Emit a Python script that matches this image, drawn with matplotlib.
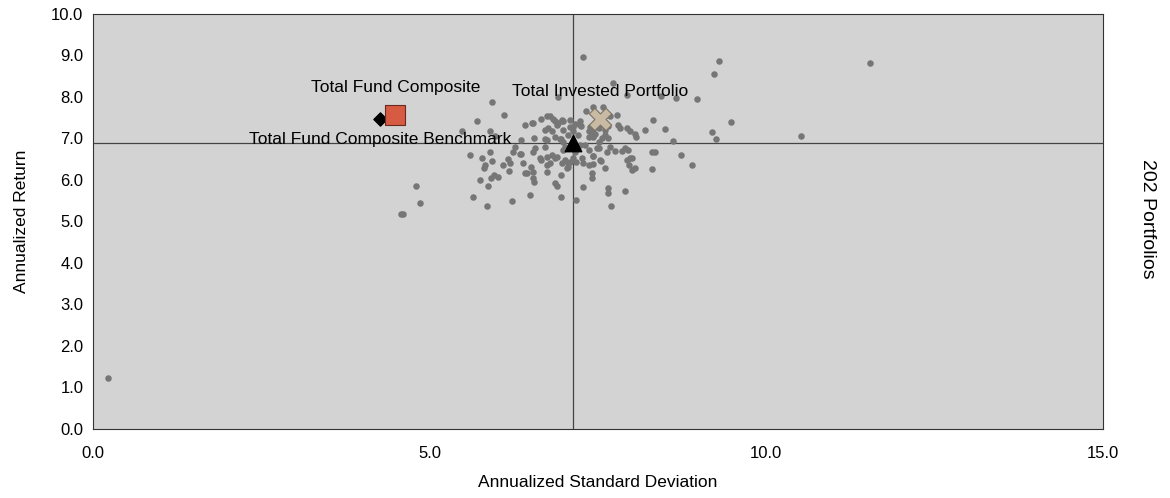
import matplotlib.pyplot as plt
import numpy as np

plt.rcParams['font.family'] = ['Liberation Sans', 'DejaVu Sans']

# universe of portfolios (annualized std dev, annualized return)
universe_sd = [
    0.22, 4.57, 4.61, 4.80, 4.86, 7.28, 9.30, 9.23, 11.54, 10.52, 9.47, 9.20, 9.26, 8.90, 8.73,
    7.73, 8.44, 8.66, 8.97, 7.93, 6.91, 5.92, 6.11, 5.71, 5.48, 5.90, 5.97,
    8.62, 8.50, 8.32, 8.20, 8.06, 7.97, 7.93, 8.05, 7.68, 7.78, 7.80, 7.83, 7.65, 7.43, 7.32, 7.58,
    7.46, 7.51, 7.36, 7.41, 7.46, 7.23, 7.21, 7.60, 7.65, 6.98, 7.08, 7.16, 7.23, 7.25, 7.38, 7.43,
    7.36, 7.43, 7.51, 7.56, 7.60, 7.06, 7.08, 7.13, 6.98,
    6.42, 6.54, 6.66, 6.79, 6.83, 6.86, 6.91, 6.97, 6.76, 6.81, 6.86, 6.95, 7.13, 6.36, 6.55, 6.74,
    6.75, 6.52, 6.72, 6.94, 6.98, 6.72, 6.89, 6.96,
    6.27, 6.56, 7.01, 5.60, 5.77, 5.89, 5.92, 5.82, 5.81, 5.75, 5.91, 5.96, 6.02, 5.87, 5.65, 5.85,
    6.23, 6.49, 6.95, 6.24, 6.35, 6.17, 6.19, 6.09, 6.18, 6.39, 6.42, 6.51, 6.54, 6.54, 6.55, 6.53,
    6.65, 6.74, 6.75, 6.81, 6.86, 6.89, 6.79, 6.96, 7.01, 7.08, 7.05, 6.95, 6.86, 6.89, 6.98, 7.17,
    7.13, 6.64, 6.71, 6.74, 6.44, 6.34,
    7.18, 7.18, 7.28, 7.36, 7.43, 7.41, 7.41, 7.43, 7.48, 7.55, 7.63, 7.68, 7.60, 7.75, 7.85, 7.90,
    7.94, 7.93, 7.98, 8.01, 7.96, 8.00, 8.05, 8.30, 8.34, 8.30, 7.65, 7.65, 7.27, 7.90, 7.69, 7.31,
    7.23, 7.16, 7.36, 7.51, 7.06, 7.04, 7.26, 7.53, 7.43,
]
universe_ret = [
    1.23, 5.17, 5.17, 5.86, 5.45, 8.96, 8.87, 8.55, 8.82, 7.06, 7.39, 7.15, 6.98, 6.37, 6.60,
    8.33, 8.02, 7.97, 7.95, 8.06, 8.01, 7.89, 7.57, 7.43, 7.18, 7.18, 7.06,
    6.95, 7.24, 7.45, 7.20, 7.03, 7.17, 7.25, 7.10, 7.53, 7.57, 7.33, 7.25, 7.29, 7.77, 7.67, 7.77,
    7.37, 7.25, 7.17, 7.08, 7.12, 7.33, 7.08, 7.08, 7.00, 7.41, 7.45, 7.35, 7.41, 7.30, 7.28, 7.22,
    7.04, 7.03, 6.92, 7.00, 7.20, 7.08, 7.28, 7.17, 6.92,
    7.33, 7.37, 7.47, 7.53, 7.47, 7.42, 7.37, 7.45, 7.25, 7.17, 7.04, 6.99, 7.28, 6.96, 7.00, 6.96,
    7.54, 7.38, 7.20, 6.98, 7.20, 6.99, 7.33, 7.41,
    6.80, 6.78, 6.80, 6.60, 6.54, 6.67, 6.46, 6.35, 6.28, 6.00, 6.04, 6.12, 6.06, 5.86, 5.60, 5.37,
    5.50, 5.64, 5.59, 6.68, 6.62, 6.51, 6.40, 6.36, 6.22, 6.40, 6.18, 6.32, 6.20, 6.04, 5.94, 6.67,
    6.48, 6.20, 6.56, 6.60, 6.52, 6.56, 6.40, 6.40, 6.48, 6.44, 6.32, 6.12, 5.92, 5.86, 6.72, 5.52,
    6.52, 6.52, 6.79, 6.36, 6.16, 6.63,
    6.76, 6.44, 6.42, 6.36, 6.38, 6.16, 6.04, 6.59, 6.78, 6.46, 6.67, 6.80, 6.28, 6.70, 6.70, 6.76,
    6.72, 6.48, 6.52, 6.54, 6.36, 6.24, 6.28, 6.68, 6.68, 6.26, 5.80, 5.69, 5.82, 5.73, 5.38, 6.84,
    6.84, 6.68, 6.72, 6.76, 6.40, 6.28, 6.52, 6.48, 6.58,
]

median_sd = 7.13
median_ret = 6.89

fund_sd, fund_ret = 4.49, 7.57          # Total Fund Composite
bench_sd, bench_ret = 4.26, 7.47        # Total Fund Composite Benchmark
invested_sd, invested_ret = 7.53, 7.47  # Total Invested Portfolio

fig = plt.figure(figsize=(11.70, 4.98), dpi=100)
ax = fig.add_axes([0.0795, 0.1386, 0.8632, 0.8333])
ax.set_facecolor('#d3d3d3')

ax.axvline(median_sd, color='#444444', linewidth=0.9, zorder=1)
ax.axhline(median_ret, color='#444444', linewidth=0.9, zorder=1)

ax.scatter(universe_sd, universe_ret, s=22, color='#767676', linewidths=0, zorder=2)

# median marker
ax.scatter([median_sd], [median_ret], marker='^', s=140, color='black', zorder=4)
ax.scatter([bench_sd], [bench_ret], marker='D', s=45, color='black', zorder=4)
ax.scatter([fund_sd], [fund_ret], marker='s', s=200, color='#d75a43', edgecolors='#6b2a1e',
           linewidths=0.8, zorder=5)
ax.scatter([invested_sd], [invested_ret], marker='X', s=260, color='#c9bba3', edgecolors='#7a7366',
           linewidths=0.8, zorder=5)

ax.text(4.49, 8.22, 'Total Fund Composite', ha='center', va='center', fontsize=12.5, zorder=6)
ax.text(4.26, 6.98, 'Total Fund Composite Benchmark', ha='center', va='center', fontsize=12.5, zorder=6)
ax.text(7.53, 8.14, 'Total Invested Portfolio', ha='center', va='center', fontsize=12.5, zorder=6)

ax.set_xlim(0, 15)
ax.set_ylim(0, 10)
ax.set_xticks([0, 5, 10, 15])
ax.set_xticklabels(['0.0', '5.0', '10.0', '15.0'])
ax.set_yticks(np.arange(0, 11, 1))
ax.set_yticklabels([f'{v:.1f}' for v in range(11)])
ax.tick_params(length=0, labelsize=12, pad=7)
ax.tick_params(axis='x', pad=12)
for sp in ax.spines.values():
    sp.set_color('#333333')
    sp.set_linewidth(0.8)

ax.set_xlabel('Annualized Standard Deviation', fontsize=12.5, labelpad=10)
ax.set_ylabel('Annualized Return', fontsize=12.5, labelpad=16)
fig.text(0.981, 0.56, '202 Portfolios', rotation=-90, ha='center', va='center', fontsize=14)

fig.savefig('out.png', dpi=100)
